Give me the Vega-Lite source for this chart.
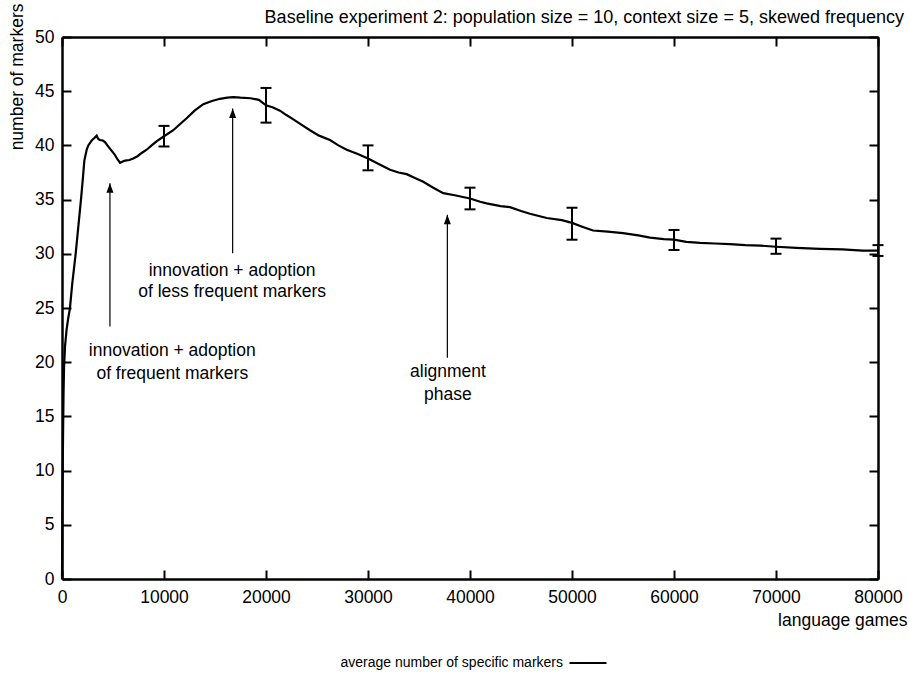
{
  "$schema": "https://vega.github.io/schema/vega-lite/v6.json",
  "width": 816,
  "height": 542,
  "autosize": "none",
  "padding": {"left": 62, "top": 37, "right": 31, "bottom": 96},
  "background": "white",
  "config": {
    "view": {"stroke": null},
    "font": "Liberation Sans",
    "axis": {"labelFont": "Liberation Sans", "titleFont": "Liberation Sans", "labelFontSize": 17.5, "titleFontSize": 17.5, "titleFontWeight": "normal", "labelColor": "black", "titleColor": "black", "domainColor": "black", "domainWidth": 2.5, "tickColor": "black", "tickWidth": 2, "grid": false}
  },
  "title": {"text": "Baseline experiment 2: population size = 10, context size = 5, skewed frequency", "anchor": "end", "frame": "group", "dx": 26, "dy": 33, "offset": 9, "fontSize": 18, "font": "Liberation Sans", "fontWeight": "normal", "color": "black"},
  "datasets": {
    "curve": [
      {"x": 0, "y": 0}, {"x": 50, "y": 8}, {"x": 100, "y": 13}, {"x": 150, "y": 17}, {"x": 200, "y": 19.5}, {"x": 300, "y": 21.5}, {"x": 450, "y": 23}, {"x": 600, "y": 24}, {"x": 780, "y": 25}, {"x": 1000, "y": 27.2}, {"x": 1340, "y": 30}, {"x": 1600, "y": 32.5}, {"x": 1860, "y": 35}, {"x": 2050, "y": 37}, {"x": 2190, "y": 38.6}, {"x": 2420, "y": 39.6}, {"x": 2580, "y": 40.0}, {"x": 2910, "y": 40.45}, {"x": 3200, "y": 40.7}, {"x": 3400, "y": 40.9}, {"x": 3550, "y": 40.6}, {"x": 3730, "y": 40.5}, {"x": 4000, "y": 40.45}, {"x": 4210, "y": 40.3}, {"x": 4450, "y": 40.0}, {"x": 4700, "y": 39.7}, {"x": 4950, "y": 39.4}, {"x": 5200, "y": 39.1}, {"x": 5450, "y": 38.7}, {"x": 5690, "y": 38.4}, {"x": 5900, "y": 38.5}, {"x": 6180, "y": 38.6}, {"x": 6600, "y": 38.65}, {"x": 6990, "y": 38.8}, {"x": 7400, "y": 39.0}, {"x": 7810, "y": 39.3}, {"x": 8300, "y": 39.6}, {"x": 8790, "y": 40.0}, {"x": 9300, "y": 40.4}, {"x": 9930, "y": 40.8}, {"x": 10910, "y": 41.4}, {"x": 11500, "y": 41.9}, {"x": 12220, "y": 42.5}, {"x": 13000, "y": 43.2}, {"x": 13850, "y": 43.8}, {"x": 14700, "y": 44.1}, {"x": 15490, "y": 44.3}, {"x": 16200, "y": 44.4}, {"x": 16800, "y": 44.45}, {"x": 17500, "y": 44.4}, {"x": 18500, "y": 44.35}, {"x": 19300, "y": 44.2}, {"x": 20000, "y": 43.7}, {"x": 20700, "y": 43.5}, {"x": 21370, "y": 43.2}, {"x": 22000, "y": 42.8}, {"x": 22680, "y": 42.4}, {"x": 23500, "y": 41.9}, {"x": 24310, "y": 41.4}, {"x": 25200, "y": 40.9}, {"x": 26270, "y": 40.5}, {"x": 27100, "y": 40.0}, {"x": 27910, "y": 39.6}, {"x": 29000, "y": 39.2}, {"x": 30000, "y": 38.8}, {"x": 31000, "y": 38.3}, {"x": 32160, "y": 37.75}, {"x": 33000, "y": 37.5}, {"x": 33790, "y": 37.35}, {"x": 34600, "y": 37.0}, {"x": 35420, "y": 36.65}, {"x": 36400, "y": 36.1}, {"x": 37380, "y": 35.6}, {"x": 38500, "y": 35.4}, {"x": 40000, "y": 35.1}, {"x": 41000, "y": 34.8}, {"x": 41630, "y": 34.65}, {"x": 43000, "y": 34.4}, {"x": 43920, "y": 34.3}, {"x": 45000, "y": 33.95}, {"x": 45880, "y": 33.7}, {"x": 47520, "y": 33.3}, {"x": 49000, "y": 33.1}, {"x": 50000, "y": 32.85}, {"x": 51000, "y": 32.5}, {"x": 52060, "y": 32.15}, {"x": 53500, "y": 32.05}, {"x": 55000, "y": 31.9}, {"x": 56500, "y": 31.7}, {"x": 57650, "y": 31.5}, {"x": 59000, "y": 31.35}, {"x": 60000, "y": 31.3}, {"x": 61200, "y": 31.1}, {"x": 62550, "y": 31.0}, {"x": 64000, "y": 30.95}, {"x": 65490, "y": 30.9}, {"x": 67000, "y": 30.8}, {"x": 68500, "y": 30.75}, {"x": 70000, "y": 30.65}, {"x": 72000, "y": 30.55}, {"x": 74310, "y": 30.45}, {"x": 76500, "y": 30.4}, {"x": 78500, "y": 30.3}, {"x": 80000, "y": 30.3}
    ],
    "errors": [
      {"x": 10000, "lo": 39.9, "hi": 41.8},
      {"x": 20000, "lo": 42.1, "hi": 45.3},
      {"x": 30000, "lo": 37.7, "hi": 40.0},
      {"x": 40000, "lo": 34.1, "hi": 36.1},
      {"x": 50000, "lo": 31.3, "hi": 34.25},
      {"x": 60000, "lo": 30.35, "hi": 32.2},
      {"x": 70000, "lo": 30.0, "hi": 31.4},
      {"x": 80000, "lo": 29.8, "hi": 30.8}
    ],
    "arrows": [
      {"x": 4700, "base": 23.3, "tip": 36.5},
      {"x": 16730, "base": 30.05, "tip": 43.4},
      {"x": 37780, "base": 20.4, "tip": 33.6}
    ],
    "notes": [
      {"x": 10810, "y": 21.0, "text": "innovation + adoption"},
      {"x": 10810, "y": 18.95, "text": "of frequent markers"},
      {"x": 16680, "y": 28.45, "text": "innovation + adoption"},
      {"x": 16680, "y": 26.5, "text": "of less frequent markers"},
      {"x": 37840, "y": 19.1, "text": "alignment"},
      {"x": 37840, "y": 17.0, "text": "phase"}
    ]
  },
  "layer": [
    {
      "layer": [
        {
          "data": {"name": "curve"},
          "mark": {"type": "line", "strokeWidth": 2.2, "interpolate": "linear"},
          "encoding": {
            "x": {"field": "x", "type": "quantitative", "scale": {"domain": [0, 80000], "nice": false, "zero": false},
              "axis": {"orient": "bottom", "values": [0, 10000, 20000, 30000, 40000, 50000, 60000, 70000, 80000], "format": "d", "tickSize": -9, "labelPadding": 18, "title": "language games", "titleX": 845, "titleY": 46, "titleAlign": "right", "titleBaseline": "alphabetic", "labelFlush": false}},
            "y": {"field": "y", "type": "quantitative", "scale": {"domain": [0, 50], "nice": false},
              "axis": {"orient": "left", "values": [0, 5, 10, 15, 20, 25, 30, 35, 40, 45, 50], "tickSize": -9, "labelPadding": 17, "title": "number of markers", "titleX": -45, "titleY": -34, "titleAngle": -90, "titleAlign": "right", "titleBaseline": "middle"}},
            "color": {"datum": "average number of specific markers", "type": "nominal", "scale": {"range": ["black"]},
              "legend": {"orient": "none", "legendX": 506, "legendY": 606, "title": null, "symbolType": "stroke", "symbolSize": 1369, "symbolStrokeWidth": 2.2, "labelAlign": "right", "labelOffset": -45, "labelLimit": 500, "labelFontSize": 14, "labelFont": "Liberation Sans", "labelColor": "black", "padding": 0}}
          }
        },
        {
          "data": {"name": "errors"},
          "mark": {"type": "rule", "strokeWidth": 2, "color": "black"},
          "encoding": {
            "x": {"field": "x", "type": "quantitative"},
            "y": {"field": "lo", "type": "quantitative"},
            "y2": {"field": "hi"}
          }
        },
        {
          "data": {"name": "errors"},
          "transform": [{"fold": ["lo", "hi"], "as": ["end", "v"]}],
          "mark": {"type": "tick", "orient": "horizontal", "size": 11, "thickness": 2, "color": "black", "opacity": 1},
          "encoding": {
            "x": {"field": "x", "type": "quantitative"},
            "y": {"field": "v", "type": "quantitative"}
          }
        },
        {
          "data": {"name": "arrows"},
          "mark": {"type": "rule", "strokeWidth": 1.2, "color": "black"},
          "encoding": {
            "x": {"field": "x", "type": "quantitative"},
            "y": {"field": "base", "type": "quantitative"},
            "y2": {"field": "tip"}
          }
        },
        {
          "data": {"name": "arrows"},
          "mark": {"type": "point", "shape": "M0,0L-0.7,1.9L0.7,1.9Z", "size": 100, "filled": true, "color": "black", "opacity": 1, "strokeWidth": 0},
          "encoding": {
            "x": {"field": "x", "type": "quantitative"},
            "y": {"field": "tip", "type": "quantitative"}
          }
        },
        {
          "data": {"name": "notes"},
          "mark": {"type": "text", "align": "center", "baseline": "middle", "fontSize": 17.5, "font": "Liberation Sans", "color": "black"},
          "encoding": {
            "x": {"field": "x", "type": "quantitative"},
            "y": {"field": "y", "type": "quantitative"},
            "text": {"field": "text"}
          }
        }
      ]
    },
    {
      "data": {"name": "errors"},
      "mark": {"type": "point", "opacity": 0},
      "encoding": {
        "x": {"field": "x", "type": "quantitative", "scale": {"domain": [0, 80000], "nice": false, "zero": false},
          "axis": {"orient": "top", "values": [0, 10000, 20000, 30000, 40000, 50000, 60000, 70000, 80000], "tickSize": -9, "labels": false, "title": null}},
        "y": {"field": "lo", "type": "quantitative", "scale": {"domain": [0, 50], "nice": false},
          "axis": {"orient": "right", "values": [0, 5, 10, 15, 20, 25, 30, 35, 40, 45, 50], "tickSize": -9, "labels": false, "title": null}}
      }
    }
  ],
  "resolve": {"axis": {"x": "independent", "y": "independent"}}
}
